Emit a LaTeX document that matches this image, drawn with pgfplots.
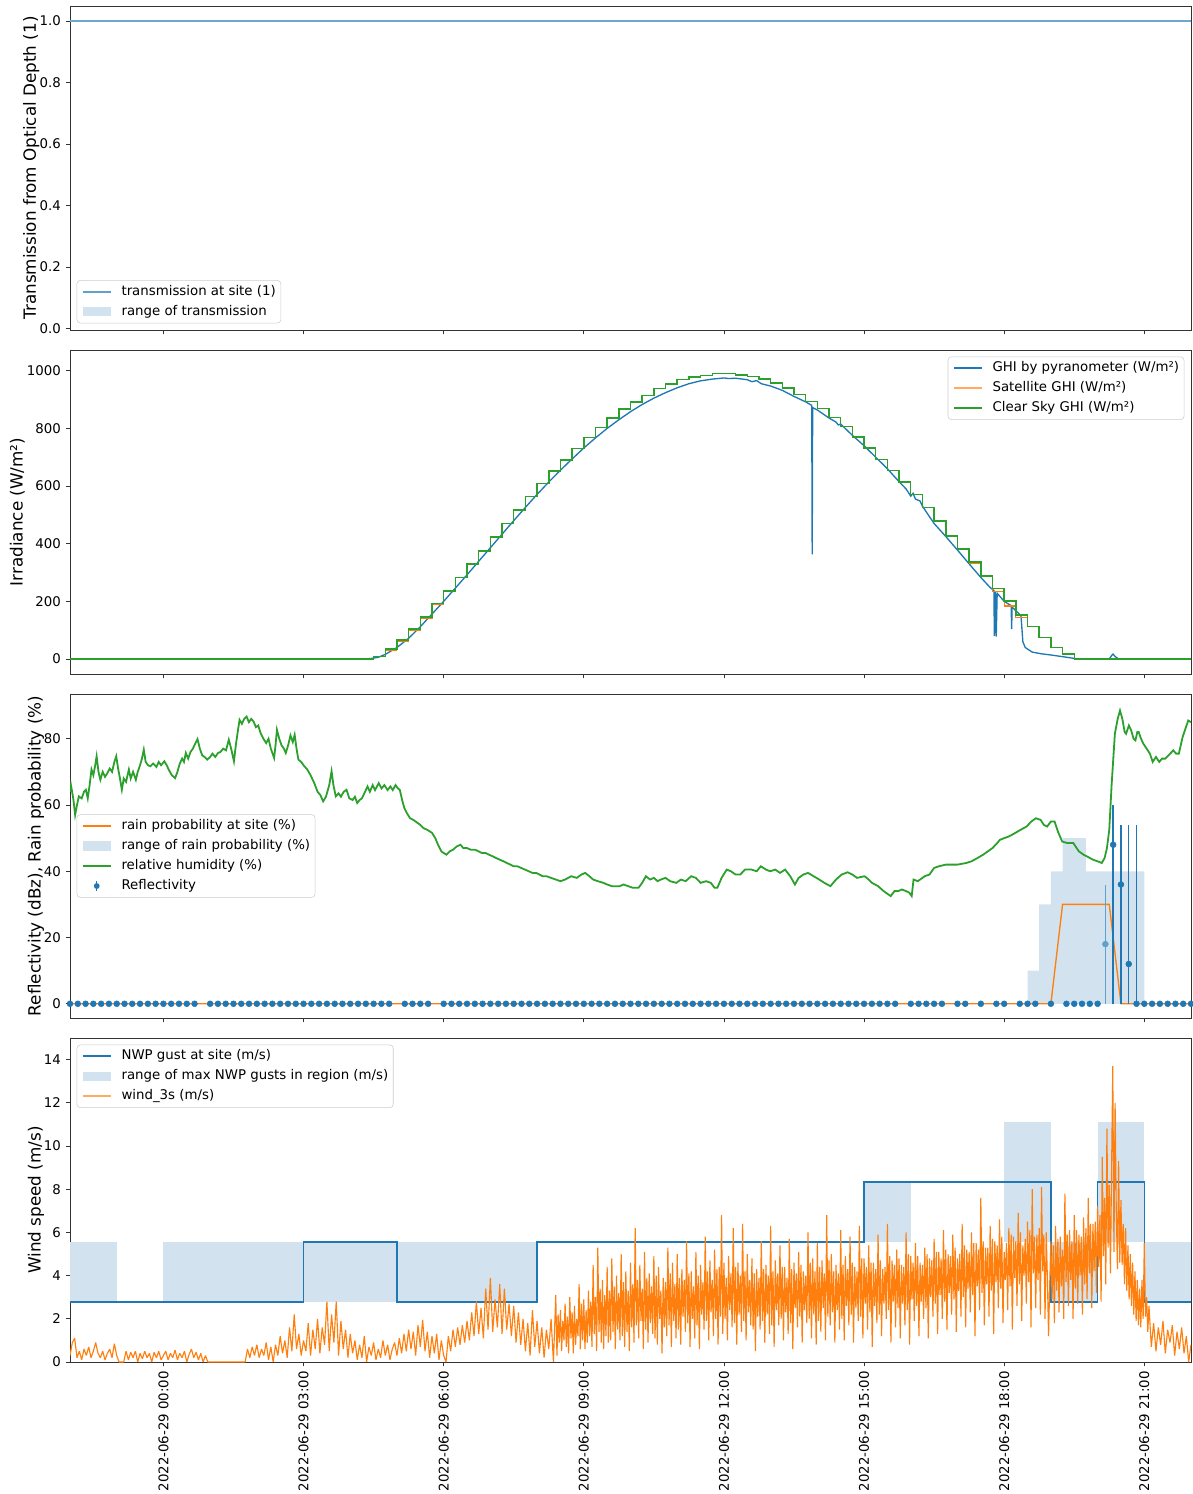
\documentclass[border=0pt]{standalone}
\usepackage{fontspec}
\setmainfont{DejaVu Sans}
\usepackage{pgfplots}
\pgfplotsset{compat=1.18}

\definecolor{tabblue}{HTML}{1F77B4}
\definecolor{taborange}{HTML}{FF7F0E}
\definecolor{tabgreen}{HTML}{2CA02C}
\definecolor{rangeblue}{HTML}{D2E3EF}

\pgfplotsset{
  lleg/.style={legend image code/.code={\draw[##1,line width=1.2pt,sharp corners,opacity=1] (0pt,0pt) -- (21pt,0pt);}},
  fleg/.style={legend image code/.code={\fill[##1,draw=none,sharp corners,opacity=1] (0pt,-3.4pt) rectangle (21pt,3.4pt);}},
  eleg/.style={legend image code/.code={\draw[##1,line width=1.1pt,opacity=1] (10.5pt,-4pt) -- (10.5pt,4pt); \fill[##1,draw=none,opacity=1] (10.5pt,0pt) circle (2.2pt);}},
  panel/.style={
    scale only axis, width=840.75pt, height=243pt,
    xmin=-2, xmax=22,
    xtick={0,3,6,9,12,15,18,21},
    xtick pos=left, ytick pos=left,
    tick align=outside,
    major tick length=3.3pt,
    axis line style={black!80, line width=0.6pt},
    every tick/.style={black!80, line width=0.6pt},
    tick label style={font=\fontsize{10}{12}\selectfont},
    label style={font=\fontsize{12.6}{15}\selectfont},
    /pgf/number format/assume math mode=true,
    /pgf/number format/1000 sep={},
    ylabel style={anchor=center},
    legend cell align=left,
    legend style={font=\fontsize{10}{12}\selectfont, draw=black!20, fill=white, fill opacity=0.8, text opacity=1, draw opacity=1,
      rounded corners=2.5pt, inner xsep=3.75pt, inner ysep=3.5pt, row sep=5pt, column sep=7.5pt,
      nodes={inner sep=0pt, text height=7.6pt, text depth=2.4pt}},
  }
}

\begin{document}
\begin{tikzpicture}
\path[use as bounding box] (0pt,0pt) rectangle (894pt,-1120.5pt);

%% ---------------- Panel 1 ----------------
\begin{axis}[panel, at={(52.5pt,-4.5pt)}, anchor=north west,
  ymin=-0.005, ymax=1.049, ytick={0,0.2,0.4,0.6,0.8,1.0},
  yticklabel style={/pgf/number format/.cd, fixed, fixed zerofill, precision=1},
  xticklabels={},
  ylabel={Transmission from Optical Depth (1)},
  ylabel style={at={(axis description cs:-0.0345,0.5)}},
  legend style={at={(axis description cs:0,0)}, anchor=south west, xshift=5pt, yshift=5pt}]
\addplot[forget plot, tabblue!65!white, line width=0.9pt] coordinates {(-2,1) (22,1)};
\addlegendimage{lleg, color=tabblue!70!white}
\addlegendentry{transmission at site (1)}
\addlegendimage{fleg, fill=rangeblue}
\addlegendentry{range of transmission}
\end{axis}

%% ---------------- Panel 2 ----------------
\begin{axis}[panel, at={(52.5pt,-262.5pt)}, anchor=north west,
  ymin=-52, ymax=1072, ytick={0,200,400,600,800,1000},
  xticklabels={},
  ylabel={Irradiance (W/m²)},
  ylabel style={at={(axis description cs:-0.047,0.5)}},
  legend style={at={(axis description cs:1,1)}, anchor=north east, xshift=-5pt, yshift=-5pt}]
% pyranometer
\addplot[forget plot, tabblue, line width=1pt] coordinates {
(-2,0)(4.3,0)(4.45,2)(4.6,6)(4.75,16)(5,40)(5.25,72)(5.5,112)(5.75,156)(6,200)(6.25,246)(6.5,292)(6.75,339)(7,386)(7.25,433)(7.5,480)(7.75,526)(8,571)(8.25,614)(8.5,655)(8.75,694)(9,732)(9.25,767)(9.5,800)(9.75,830)(10,858)(10.25,883)(10.5,905)(10.75,924)(11,941)(11.25,955)(11.5,965)(11.75,971)(12,975)(12.1,973)(12.25,974)(12.5,969)(12.6,962)(12.7,966)(12.8,955)(13,947)(13.25,932)(13.5,911)(13.75,892)(13.88,880)(13.89,363)(13.9,872)(14,864)(14.25,836)(14.4,822)(14.45,812)(14.5,815)(14.75,776)(15,740)(15.25,700)(15.5,660)(15.75,615)(15.9,590)(16.0,565)(16.05,575)(16.1,555)(16.2,548)(16.25,530)(16.5,470)(16.75,425)(17,378)(17.25,330)(17.5,283)(17.7,248)(17.78,238)(17.79,80)(17.81,232)(17.83,78)(17.85,228)(18.0,200)(18.15,185)(18.16,104)(18.17,180)(18.3,160)(18.36,150)(18.4,60)(18.45,40)(18.6,24)(18.8,18)(19.0,14)(19.3,7)(19.5,2)(19.6,0)(20.25,0)(20.3,12)(20.33,17)(20.38,8)(20.45,0)(22,0)};
% satellite
\addplot[forget plot, taborange, line width=0.8pt, const plot mark left] coordinates {
(-2,0)(4.5,8)(4.75,30)(5,60)(5.25,98)(5.5,140)(5.75,188)(6,236)(6.25,283)(6.5,329)(6.75,375)(7,423)(7.25,471)(7.5,517)(7.75,563)(8,609)(8.25,652)(8.5,691)(8.75,730)(9,769)(9.25,804)(9.5,836)(9.75,867)(10,892)(10.25,915)(10.5,938)(10.75,954)(11,970)(11.25,978)(11.5,984)(11.75,990)(12,990)(12.25,986)(12.5,980)(12.75,972)(13,957)(13.25,940)(13.5,917)(13.75,894)(14,869)(14.25,838)(14.5,806)(14.75,771)(15,732)(15.25,693)(15.5,654)(15.75,614)(16,571)(16.25,525)(16.5,479)(16.75,427)(17,381)(17.25,333)(17.5,286)(17.75,234)(18,184)(18.25,144)(18.5,113)(18.75,75)(19,40)(19.25,17)(19.5,0)(22,0)};
% clear sky
\addplot[forget plot, tabgreen, line width=1.1pt, const plot mark left] coordinates {
(-2,0)(4.5,8)(4.75,35)(5,66)(5.25,104)(5.5,146)(5.75,193)(6,236)(6.25,283)(6.5,329)(6.75,375)(7,423)(7.25,471)(7.5,517)(7.75,563)(8,609)(8.25,652)(8.5,691)(8.75,730)(9,769)(9.25,804)(9.5,836)(9.75,867)(10,892)(10.25,915)(10.5,938)(10.75,954)(11,970)(11.25,978)(11.5,984)(11.75,990)(12,990)(12.25,986)(12.5,980)(12.75,972)(13,957)(13.25,940)(13.5,917)(13.75,894)(14,869)(14.25,838)(14.5,806)(14.75,771)(15,732)(15.25,693)(15.5,654)(15.75,614)(16,571)(16.25,525)(16.5,479)(16.75,427)(17,381)(17.25,337)(17.5,288)(17.75,245)(18,202)(18.25,152)(18.5,113)(18.75,75)(19,40)(19.25,17)(19.5,0)(22,0)};
\addlegendimage{lleg, color=tabblue}
\addlegendentry{GHI by pyranometer (W/m²)}
\addlegendimage{lleg, color=taborange!65!white}
\addlegendentry{Satellite GHI (W/m²)}
\addlegendimage{lleg, color=tabgreen}
\addlegendentry{Clear Sky GHI (W/m²)}
\end{axis}

%% ---------------- Panel 3 ----------------
\begin{axis}[panel, at={(52.5pt,-520.5pt)}, anchor=north west,
  ymin=-4.3, ymax=93.5, ytick={0,20,40,60,80},
  xticklabels={},
  ylabel={Reflectivity (dBz), Rain probability (\%)},
  ylabel style={at={(axis description cs:-0.0303,0.5)}},
  legend style={at={(axis description cs:0,0.5)}, anchor=west, xshift=5pt}]
% range of rain probability
\addplot[forget plot, fill=rangeblue, draw=none] coordinates {
(18.5,0)(18.5,10)(18.75,10)(18.75,30)(19,30)(19,40)(19.25,40)(19.25,50)(19.75,50)(19.75,40)(21,40)(21,0)};
% rain probability at site
\addplot[forget plot, taborange, line width=1pt] coordinates {
(-2,0)(19,0)(19.25,30)(20.25,30)(20.5,0)(22,0)};
% relative humidity
\addplot[forget plot, tabgreen, line width=1.35pt] coordinates {
(-2.0,64)(-1.98,66)(-1.93,62)(-1.89,57)(-1.85,60)(-1.81,62.6)(-1.75,62)(-1.7,64)(-1.66,64.6)(-1.62,62)(-1.58,66)(-1.54,70.7)(-1.5,69)(-1.46,72)(-1.43,74.7)(-1.39,70)(-1.35,67.6)(-1.3,70)(-1.25,68.5)(-1.2,69.6)(-1.15,71)(-1.1,70)(-1.05,73)(-1.01,74.7)(-0.97,71)(-0.93,68)(-0.89,64.6)(-0.85,68)(-0.8,67)(-0.74,70.7)(-0.7,68)(-0.65,70)(-0.59,67.6)(-0.55,70)(-0.5,72)(-0.46,74)(-0.42,76.7)(-0.38,73)(-0.33,72)(-0.28,71.7)(-0.22,72.5)(-0.15,71.5)(-0.1,73)(-0.05,72)(0.02,73.2)(0.07,72)(0.12,70.5)(0.18,69)(0.25,68.1)(0.3,70)(0.35,72.5)(0.4,74)(0.44,73)(0.48,75.7)(0.53,74)(0.58,76)(0.63,77)(0.68,78.5)(0.73,79.9)(0.78,77)(0.83,75)(0.88,74.5)(0.94,73.7)(1.0,74.5)(1.05,75.5)(1.11,74.5)(1.17,75.7)(1.22,76)(1.28,77)(1.34,76.5)(1.4,79.7)(1.45,77)(1.51,73.2)(1.55,78)(1.59,82)(1.63,85.7)(1.68,84.5)(1.73,86)(1.78,86.7)(1.83,85)(1.88,86)(1.93,85.2)(1.98,83.5)(2.03,84)(2.08,81.7)(2.14,80)(2.2,78.7)(2.25,80)(2.3,77)(2.37,74.2)(2.4,78)(2.43,82.7)(2.48,80)(2.53,78)(2.58,77)(2.62,75.7)(2.67,78)(2.72,81)(2.77,79)(2.81,81.2)(2.85,77)(2.89,73.7)(2.95,73)(3.0,72)(3.08,70.7)(3.15,69)(3.23,66.6)(3.3,64)(3.36,63)(3.42,61.1)(3.48,62.5)(3.55,66)(3.6,70.2)(3.64,66)(3.69,62.6)(3.75,63.5)(3.8,62.5)(3.86,64)(3.92,64.6)(3.98,62)(4.05,61.5)(4.1,62.5)(4.15,60.6)(4.2,61.5)(4.25,62)(4.3,63.5)(4.37,65.6)(4.42,64)(4.48,66)(4.53,64.5)(4.61,66.6)(4.67,65)(4.73,66)(4.8,64.5)(4.86,65.6)(4.91,64.5)(4.97,66)(5.02,65)(5.06,64.6)(5.12,61)(5.16,59)(5.21,57.6)(5.28,56)(5.35,55.5)(5.44,54.6)(5.5,54)(5.57,53)(5.65,52.5)(5.75,51.6)(5.82,50)(5.88,48)(5.95,46)(6.0,45.5)(6.06,45)(6.13,46)(6.2,46.5)(6.28,47.5)(6.36,48)(6.42,47)(6.5,47)(6.58,46.5)(6.67,46.5)(6.75,46)(6.82,45.5)(6.9,45.5)(6.97,45)(7.05,44.5)(7.12,44)(7.2,43.5)(7.28,43)(7.35,42.5)(7.43,42)(7.5,41.5)(7.58,41.5)(7.66,41)(7.74,40.5)(7.82,40)(7.9,39.5)(7.98,39.5)(8.05,39)(8.12,38.5)(8.2,38.5)(8.3,38)(8.4,37.5)(8.5,37)(8.6,37.5)(8.73,38.5)(8.85,38)(8.95,39)(9.03,39.5)(9.12,38.5)(9.2,37.5)(9.3,37)(9.42,36.5)(9.5,36)(9.6,35.5)(9.72,35.5)(9.77,35.5)(9.85,36)(9.95,35.5)(10.05,35)(10.17,35)(10.25,36.5)(10.33,38.5)(10.42,37.5)(10.5,38)(10.58,37)(10.65,37.5)(10.75,38)(10.85,37)(10.98,36.5)(11.08,37.5)(11.18,37)(11.3,38.5)(11.4,38)(11.5,36.5)(11.62,37)(11.72,36.5)(11.8,35)(11.86,35)(11.95,38)(12.06,40.5)(12.15,40)(12.25,39)(12.35,39)(12.45,40.5)(12.59,40.5)(12.7,40)(12.79,41.5)(12.9,40.5)(12.99,40)(13.1,40.5)(13.2,39.5)(13.31,40.5)(13.42,38.5)(13.52,36)(13.6,38)(13.7,39)(13.8,39.5)(13.92,38.5)(14.04,37.5)(14.15,36.5)(14.28,35.5)(14.4,37.5)(14.52,39)(14.65,39.7)(14.75,39)(14.85,38)(15.01,38.5)(15.1,37.5)(15.17,36.5)(15.3,35.5)(15.42,34)(15.57,32.5)(15.65,34)(15.73,34)(15.81,34.5)(15.9,34)(15.97,33.5)(16.02,32.5)(16.06,37.5)(16.15,37)(16.3,38.5)(16.4,39)(16.5,41)(16.6,41.5)(16.75,42)(16.86,42)(17.0,42)(17.19,42.5)(17.3,43)(17.43,44)(17.55,45)(17.65,46)(17.75,47)(17.85,48.5)(17.91,49.5)(18.0,50)(18.1,50.5)(18.23,51.5)(18.35,52.5)(18.48,53.5)(18.58,55)(18.68,56)(18.78,55.5)(18.85,54)(18.92,53.5)(19.0,55)(19.08,55)(19.15,52)(19.24,49)(19.35,48.5)(19.48,48.5)(19.6,46)(19.7,45)(19.77,44.5)(19.9,43.5)(20.0,43)(20.09,42.5)(20.15,44)(20.2,47)(20.25,52.5)(20.3,66)(20.37,81.5)(20.43,86)(20.48,88.5)(20.53,86)(20.58,82)(20.61,81.5)(20.67,84)(20.72,82.5)(20.77,80)(20.81,79.5)(20.85,82)(20.88,82)(20.93,80)(20.98,78.5)(21.05,77)(21.12,75.5)(21.18,73)(21.25,74.5)(21.32,73)(21.38,74)(21.45,74)(21.52,75)(21.62,76.5)(21.68,75.5)(21.74,75.5)(21.78,78)(21.82,80.5)(21.88,83)(21.94,85.5)(22.0,85)};
% reflectivity (zero values)
\addplot[forget plot, only marks, mark=*, mark size=2.2pt, tabblue] coordinates {
(-2,0)(-1.833,0)(-1.667,0)(-1.5,0)(-1.333,0)(-1.167,0)(-1,0)(-0.833,0)(-0.667,0)(-0.5,0)(-0.333,0)(-0.167,0)
(0,0)(0.167,0)(0.333,0)(0.5,0)(0.667,0)
(1,0)(1.167,0)(1.333,0)(1.5,0)(1.667,0)(1.833,0)(2,0)(2.167,0)(2.333,0)(2.5,0)(2.667,0)(2.833,0)(3,0)(3.167,0)(3.333,0)(3.5,0)(3.667,0)(3.833,0)(4,0)(4.167,0)(4.333,0)(4.5,0)(4.667,0)(4.833,0)
(5.167,0)(5.333,0)(5.5,0)(5.667,0)
(6,0)(6.167,0)(6.333,0)(6.5,0)(6.667,0)(6.833,0)(7,0)(7.167,0)(7.333,0)(7.5,0)(7.667,0)(7.833,0)(8,0)(8.167,0)(8.333,0)(8.5,0)(8.667,0)(8.833,0)(9,0)(9.167,0)(9.333,0)(9.5,0)(9.667,0)(9.833,0)(10,0)(10.167,0)(10.333,0)(10.5,0)(10.667,0)(10.833,0)(11,0)(11.167,0)(11.333,0)(11.5,0)(11.667,0)(11.833,0)(12,0)(12.167,0)(12.333,0)(12.5,0)(12.667,0)(12.833,0)(13,0)(13.167,0)(13.333,0)(13.5,0)(13.667,0)(13.833,0)(14,0)(14.167,0)(14.333,0)(14.5,0)(14.667,0)(14.833,0)(15,0)(15.167,0)(15.333,0)(15.5,0)(15.667,0)
(16,0)(16.167,0)(16.333,0)(16.5,0)(16.667,0)
(17,0)(17.167,0)(17.5,0)(17.833,0)(18,0)
(18.333,0)(18.5,0)(18.667,0)(19,0)
(19.333,0)(19.5,0)(19.667,0)(19.833,0)(20,0)
(21,0)(21.167,0)(21.333,0)(21.5,0)(21.667,0)(21.833,0)(22,0)};
% reflectivity with error bars
\addplot[forget plot, only marks, mark=*, mark size=2.2pt, tabblue!70!white,
  error bars/.cd, y dir=both, y explicit, error mark=none,
  error bar style={line width=1.1pt, tabblue!70!white}] coordinates {
(20.167,18) += (0,18) -= (0,18)};
\addplot[forget plot, only marks, mark=*, mark size=2.2pt, tabblue,
  error bars/.cd, y dir=both, y explicit, error mark=none,
  error bar style={line width=1.1pt, tabblue}] coordinates {
(20.333,48) += (0,12) -= (0,48)
(20.5,36) += (0,18) -= (0,36)
(20.667,12) += (0,42) -= (0,12)
(20.833,0) += (0,54) -= (0,0)};
\addlegendimage{lleg, color=taborange}
\addlegendentry{rain probability at site (\%)}
\addlegendimage{fleg, fill=rangeblue}
\addlegendentry{range of rain probability (\%)}
\addlegendimage{lleg, color=tabgreen}
\addlegendentry{relative humidity (\%)}
\addlegendimage{eleg, color=tabblue}
\addlegendentry{Reflectivity}
\end{axis}

%% ---------------- Panel 4 ----------------
\begin{axis}[panel, at={(52.5pt,-778.5pt)}, anchor=north west,
  ymin=0, ymax=15, ytick={0,2,4,6,8,10,12,14},
  xticklabels={2022-06-29 00:00,2022-06-29 03:00,2022-06-29 06:00,2022-06-29 09:00,2022-06-29 12:00,2022-06-29 15:00,2022-06-29 18:00,2022-06-29 21:00},
  xticklabel style={rotate=90, anchor=east},
  ylabel={Wind speed (m/s)},
  ylabel style={at={(axis description cs:-0.0303,0.5)}},
  legend style={at={(axis description cs:0,1)}, anchor=north west, xshift=5pt, yshift=-5pt}]
% range of max gusts
\addplot[forget plot, fill=rangeblue, draw=none] coordinates {(-2,2.778)(-1,2.778)(-1,5.556)(-2,5.556)};
\addplot[forget plot, fill=rangeblue, draw=none] coordinates {(0,2.778)(8,2.778)(8,5.556)(0,5.556)};
\addplot[forget plot, fill=rangeblue, draw=none] coordinates {(15,5.556)(16,5.556)(16,8.333)(15,8.333)};
\addplot[forget plot, fill=rangeblue, draw=none] coordinates {(18,5.556)(19,5.556)(19,11.111)(18,11.111)};
\addplot[forget plot, fill=rangeblue, draw=none] coordinates {(19,2.778)(20,2.778)(20,5.556)(19,5.556)};
\addplot[forget plot, fill=rangeblue, draw=none] coordinates {(20,5.556)(21,5.556)(21,11.111)(20,11.111)};
\addplot[forget plot, fill=rangeblue, draw=none] coordinates {(21,2.778)(22,2.778)(22,5.556)(21,5.556)};
% NWP gust at site
\addplot[forget plot, tabblue, line width=1.1pt, const plot mark left] coordinates {
(-2,2.778)(3,5.556)(5,2.778)(8,5.556)(15,8.333)(19,2.778)(20,8.333)(21,2.778)(22,2.778)};
% wind_3s
\addplot[forget plot, taborange, line width=0.85pt, line join=bevel] coordinates {
(-2.00,0.3)(-1.95,0.9)(-1.90,1.1)(-1.85,0.2)(-1.80,0.5)(-1.75,0.1)(-1.70,0.6)(-1.65,0.3)(-1.60,0.7)(-1.55,0.2)(-1.50,0.5)(-1.45,0.9)(-1.40,0.4)(-1.35,0.2)(-1.30,0.5)(-1.25,0.1)(-1.20,0.4)(-1.15,0.6)(-1.10,0.2)(-1.05,0.85)(-1.00,0.3)
(-0.95,0.0)(-0.90,0.0)(-0.85,0.0)(-0.80,0.5)(-0.75,0.1)(-0.70,0.45)(-0.65,0.2)(-0.60,0.5)(-0.55,0.0)(-0.50,0.4)(-0.45,0.15)(-0.40,0.5)(-0.35,0.2)(-0.30,0.4)(-0.25,0.0)(-0.20,0.45)(-0.15,0.2)(-0.10,0.5)(-0.05,0.1)(0.00,0.3)(0.05,0.5)(0.10,0.1)(0.15,0.4)(0.20,0.2)(0.25,0.55)(0.30,0.1)(0.35,0.4)(0.40,0.2)(0.45,0.5)(0.50,0.0)(0.55,0.35)(0.60,0.6)(0.65,0.2)(0.70,0.45)(0.75,0.1)(0.80,0.4)(0.85,0.0)(0.90,0.3)(0.95,0.0)
(1.00,0.0)(1.75,0.0)
(1.80,0.6)(1.85,0.2)(1.90,0.7)(1.95,0.3)(2.00,0.8)(2.05,0.2)(2.10,0.6)(2.15,0.3)(2.20,0.9)(2.25,0.1)(2.30,0.7)(2.35,0.0)(2.40,0.8)(2.45,0.3)(2.50,1.2)(2.55,0.4)(2.60,1.0)(2.65,0.2)(2.70,1.6)(2.75,0.5)(2.80,2.2)(2.85,0.6)(2.90,1.3)(2.95,0.3)(3.00,1.0)
(3.05,0.5)(3.10,1.8)(3.15,0.3)(3.20,1.5)(3.25,0.6)(3.30,2.0)(3.35,0.4)(3.40,1.6)(3.45,0.8)(3.50,2.8)(3.55,0.5)(3.60,2.2)(3.65,0.9)(3.70,2.8)(3.75,0.3)(3.80,1.9)(3.85,0.6)(3.90,1.5)(3.95,0.2)(4.00,1.3)
(4.05,0.4)(4.10,1.0)(4.15,0.1)(4.20,0.8)(4.25,0.2)(4.30,1.2)(4.35,0.0)(4.40,0.7)(4.45,0.3)(4.50,0.9)(4.55,0.1)(4.60,0.6)(4.65,0.2)(4.70,1.0)(4.75,0.3)(4.80,0.8)(4.85,0.1)(4.90,0.6)
(4.95,0.9)(5.00,0.3)(5.05,1.1)(5.10,0.4)(5.15,1.3)(5.20,0.5)(5.25,1.5)(5.30,0.6)(5.35,1.4)(5.40,0.3)(5.45,1.7)(5.50,0.7)(5.55,1.95)(5.60,0.5)(5.65,1.4)(5.70,0.2)(5.75,1.2)(5.80,0.4)(5.85,1.3)(5.90,0.1)(5.95,1.0)(6.00,0.3)
(6.05,0.0)(6.10,1.2)(6.15,0.5)(6.20,1.5)(6.25,0.7)(6.30,1.6)(6.35,0.8)(6.40,1.7)(6.45,0.9)(6.50,1.9)
(6.55,1.0)(6.60,2.3)(6.65,1.2)(6.70,2.8)(6.75,1.3)(6.80,2.5)(6.85,1.1)(6.90,3.4)(6.95,1.5)(7.00,3.9)(7.05,1.4)(7.10,2.9)(7.15,1.6)(7.20,3.6)(7.25,1.3)(7.30,3.4)(7.35,1.5)(7.40,2.7)(7.45,1.2)(7.50,2.6)(7.55,0.9)(7.60,2.3)
(7.65,0.8)(7.70,2.0)(7.75,0.5)(7.80,1.8)(7.85,0.3)(7.90,2.4)(7.95,0.7)(8.00,1.9)(8.05,0.4)(8.10,1.6)(8.15,0.2)(8.20,1.5)(8.25,0.6)(8.30,2.0)(8.35,0.0)
(8.400,3.1)(8.425,0.3)(8.450,2.2)(8.475,0.9)(8.500,2.4)(8.525,0.5)(8.550,1.9)(8.575,1.0)(8.600,2.7)(8.625,0.7)(8.650,2.1)(8.675,0.4)(8.700,3.0)(8.725,1.1)(8.750,2.3)(8.775,0.4)(8.800,2.6)(8.825,0.8)(8.850,2.0)(8.875,1.2)
(8.900,3.6)(8.925,0.6)(8.950,2.7)(8.975,1.0)(9.000,2.9)(9.025,0.6)(9.050,2.4)(9.075,0.9)(9.100,3.3)(9.125,1.2)(9.150,2.8)(9.175,0.7)(9.200,4.5)(9.225,1.3)(9.250,3.0)(9.275,0.5)(9.300,5.3)(9.325,1.4)(9.350,3.4)(9.375,0.9)
(9.400,3.8)(9.425,0.6)(9.450,3.1)(9.475,1.2)(9.500,4.4)(9.525,0.9)(9.550,3.3)(9.575,1.0)(9.600,4.8)(9.625,1.4)(9.650,3.5)(9.675,0.6)(9.700,4.0)(9.725,1.5)(9.750,3.2)(9.775,1.0)(9.800,5.0)(9.825,1.2)(9.850,3.7)(9.875,0.7)
(9.900,4.2)(9.925,1.4)(9.950,3.3)(9.975,0.5)(10.000,4.6)(10.025,1.6)(10.050,3.6)(10.075,0.9)(10.100,6.2)(10.125,1.7)(10.150,3.8)(10.175,1.1)(10.200,4.5)(10.225,1.9)(10.250,3.4)(10.275,0.6)(10.300,5.1)(10.325,1.5)(10.350,3.9)(10.375,0.9)
(10.400,4.1)(10.425,1.8)(10.450,3.5)(10.475,1.3)(10.500,4.9)(10.525,1.1)(10.550,4.0)(10.575,0.8)(10.600,4.4)(10.625,2.0)(10.650,3.3)(10.675,0.4)(10.700,3.9)(10.725,1.6)(10.750,3.7)(10.775,1.2)(10.800,5.3)(10.825,1.7)(10.850,4.1)(10.875,0.7)
(10.900,4.6)(10.925,1.9)(10.950,3.6)(10.975,1.1)(11.000,5.0)(11.025,1.5)(11.050,3.9)(11.075,0.8)(11.100,4.3)(11.125,2.1)(11.150,3.8)(11.175,1.4)(11.200,5.6)(11.225,1.8)(11.250,4.1)(11.275,0.7)(11.300,4.2)(11.325,2.0)(11.350,3.5)(11.375,1.1)
(11.400,5.1)(11.425,1.7)(11.450,4.0)(11.475,0.6)(11.500,4.5)(11.525,2.2)(11.550,3.7)(11.575,1.5)(11.600,5.8)(11.625,1.9)(11.650,4.2)(11.675,1.0)(11.700,4.7)(11.725,2.3)(11.750,3.8)(11.775,1.2)(11.800,5.2)(11.825,2.0)(11.850,4.3)(11.875,0.8)
(11.900,4.4)(11.925,2.1)(11.950,6.8)(11.975,1.3)(12.000,4.6)(12.025,2.0)(12.050,3.9)(12.075,1.0)(12.100,4.9)(12.125,2.4)(12.150,4.1)(12.175,1.6)(12.200,6.2)(12.225,1.8)(12.250,4.4)(12.275,0.8)(12.300,4.6)(12.325,2.2)(12.350,4.0)(12.375,1.4)
(12.400,6.4)(12.425,1.9)(12.450,4.2)(12.475,1.0)(12.500,5.0)(12.525,2.3)(12.550,3.8)(12.575,1.7)(12.600,4.8)(12.625,1.5)(12.650,4.1)(12.675,0.5)(12.700,4.3)(12.725,2.1)(12.750,3.9)(12.775,1.5)(12.800,5.6)(12.825,1.9)(12.850,4.3)(12.875,0.9)
(12.900,4.5)(12.925,2.2)(12.950,4.0)(12.975,1.3)(13.000,6.3)(13.025,1.7)(13.050,4.2)(13.075,0.7)(13.100,4.7)(13.125,2.4)(13.150,4.1)(13.175,1.7)(13.200,5.4)(13.225,2.0)(13.250,4.4)(13.275,1.0)(13.300,4.4)(13.325,2.3)(13.350,3.9)(13.375,1.3)
(13.400,5.7)(13.425,1.8)(13.450,4.3)(13.475,0.6)(13.500,4.6)(13.525,2.5)(13.550,4.1)(13.575,1.6)(13.600,5.1)(13.625,2.1)(13.650,4.5)(13.675,0.9)(13.700,4.2)(13.725,2.4)(13.750,4.0)(13.775,1.8)(13.800,6.0)(13.825,2.0)(13.850,4.6)(13.875,1.1)
(13.900,4.8)(13.925,2.2)(13.950,4.2)(13.975,0.8)(14.000,5.5)(14.025,1.9)(14.050,4.4)(14.075,1.4)(14.100,4.7)(14.125,2.5)(14.150,4.1)(14.175,1.0)(14.200,6.8)(14.225,2.1)(14.250,4.7)(14.275,1.7)(14.300,5.0)(14.325,2.3)(14.350,4.2)(14.375,0.9)
(14.400,4.5)(14.425,2.4)(14.450,4.1)(14.475,1.5)(14.500,6.1)(14.525,2.0)(14.550,4.5)(14.575,1.0)(14.600,4.9)(14.625,2.6)(14.650,4.3)(14.675,1.7)(14.700,5.8)(14.725,2.2)(14.750,4.6)(14.775,0.9)(14.800,4.4)(14.825,2.5)(14.850,4.2)(14.875,1.9)
(14.900,6.3)(14.925,2.1)(14.950,4.8)(14.975,1.1)(15.000,4.8)(15.025,2.7)(15.050,4.4)(15.075,1.5)(15.100,5.4)(15.125,2.3)(15.150,4.6)(15.175,0.7)(15.200,4.6)(15.225,2.6)(15.250,4.3)(15.275,1.8)(15.300,5.9)(15.325,2.2)(15.350,4.7)(15.375,1.2)
(15.400,4.3)(15.425,2.7)(15.450,4.4)(15.475,2.0)(15.500,6.4)(15.525,2.4)(15.550,4.9)(15.575,0.9)(15.600,4.7)(15.625,2.8)(15.650,4.5)(15.675,1.6)(15.700,5.2)(15.725,2.5)(15.750,4.8)(15.775,1.1)(15.800,4.5)(15.825,2.7)(15.850,4.4)(15.875,1.7)
(15.900,6.0)(15.925,2.4)(15.950,5.0)(15.975,0.8)(16.000,4.9)(16.025,2.9)(16.050,4.6)(16.075,1.9)(16.100,5.5)(16.125,2.6)(16.150,4.9)(16.175,1.2)(16.200,4.6)(16.225,2.8)(16.250,4.5)(16.275,2.0)(16.300,5.3)(16.325,2.5)(16.350,5.0)(16.375,1.1)
(16.400,4.8)(16.425,3.0)(16.450,4.7)(16.475,2.1)(16.500,5.7)(16.525,2.7)(16.550,5.1)(16.575,1.3)(16.600,5.1)(16.625,3.1)(16.650,4.8)(16.675,2.0)(16.700,6.1)(16.725,2.8)(16.750,5.2)(16.775,1.5)(16.800,5.0)(16.825,3.2)(16.850,4.9)(16.875,2.2)
(16.900,5.9)(16.925,2.9)(16.950,5.3)(16.975,1.4)(17.000,4.8)(17.025,3.3)(17.050,5.0)(17.075,2.1)(17.100,6.4)(17.125,3.0)(17.150,5.4)(17.175,1.6)(17.200,5.2)(17.225,3.4)(17.250,5.1)(17.275,2.3)(17.300,6.0)(17.325,3.1)(17.350,5.5)(17.375,1.2)
(17.400,5.5)(17.425,3.5)(17.450,5.2)(17.475,2.4)(17.500,7.6)(17.525,3.2)(17.550,5.6)(17.575,1.7)(17.600,5.3)(17.625,3.6)(17.650,5.3)(17.675,2.1)(17.700,6.3)(17.725,3.3)(17.750,5.7)(17.775,1.3)(17.800,5.6)(17.825,3.7)(17.850,5.4)(17.875,2.5)
(17.900,6.6)(17.925,3.4)(17.950,5.8)(17.975,1.8)(18.000,5.1)(18.025,3.8)(18.050,5.5)(18.075,2.4)(18.100,6.2)(18.125,3.5)(18.150,5.9)(18.175,1.5)(18.200,5.8)(18.225,3.9)(18.250,5.6)(18.275,2.6)(18.300,6.9)(18.325,3.6)(18.350,6.0)(18.375,1.9)
(18.400,5.4)(18.425,4.0)(18.450,5.7)(18.475,2.7)(18.500,6.5)(18.525,3.7)(18.550,6.1)(18.575,1.6)(18.600,8.0)(18.625,4.1)(18.650,5.8)(18.675,2.5)(18.700,5.9)(18.725,3.8)(18.750,6.2)(18.775,2.2)(18.800,8.1)(18.825,4.2)(18.850,5.9)(18.875,2.0)
(18.900,6.0)(18.925,3.9)(18.950,1.2)(18.975,3.6)(19.000,5.6)(19.025,2.9)(19.050,5.4)(19.075,1.8)(19.100,6.3)(19.125,3.3)(19.150,5.7)(19.175,2.3)(19.200,5.8)(19.225,3.5)(19.250,5.2)(19.275,2.0)(19.300,7.8)(19.325,3.7)(19.350,5.9)(19.375,2.6)
(19.400,6.1)(19.425,3.8)(19.450,5.6)(19.475,2.0)(19.500,6.8)(19.525,3.4)(19.550,6.1)(19.575,2.7)(19.600,5.9)(19.625,4.0)(19.650,5.8)(19.675,2.2)(19.700,6.7)(19.725,3.6)(19.750,6.2)(19.775,2.9)(19.800,7.6)(19.825,4.1)(19.850,6.4)(19.875,2.5)
(19.900,6.4)(19.925,4.2)(19.950,6.5)(19.975,3.2)(20.000,7.2)(20.025,4.4)(20.050,6.8)(20.075,2.8)(20.100,9.5)(20.125,4.9)(20.150,7.6)(20.175,3.6)(20.200,10.8)(20.225,5.3)(20.250,8.2)(20.275,4.1)(20.300,9.0)(20.325,13.7)(20.350,5.1)(20.375,12.0)(20.400,7.0)(20.425,4.3)(20.450,9.3)(20.475,4.6)
(20.500,7.5)(20.525,4.5)(20.550,6.4)(20.575,3.6)(20.600,6.2)(20.625,3.3)(20.650,5.4)(20.675,2.9)(20.700,5.0)(20.725,2.6)(20.750,4.6)(20.775,2.2)(20.800,4.2)(20.825,1.9)(20.850,3.8)(20.875,1.7)(20.900,3.4)(20.925,1.6)(20.950,3.8)(20.975,2.0)(21.000,5.5)(21.025,2.1)(21.050,3.0)(21.075,1.4)(21.100,2.6)
(21.15,0.7)(21.20,1.8)(21.25,0.5)(21.30,1.6)(21.35,0.8)(21.40,1.9)(21.45,0.4)(21.50,1.5)(21.55,0.9)(21.60,1.7)(21.65,0.3)(21.70,1.4)(21.75,0.6)(21.80,1.6)(21.85,0.4)(21.90,1.2)(21.95,0.0)(22.00,0.8)};
\addlegendimage{lleg, color=tabblue}
\addlegendentry{NWP gust at site (m/s)}
\addlegendimage{fleg, fill=rangeblue}
\addlegendentry{range of max NWP gusts in region (m/s)}
\addlegendimage{lleg, color=taborange!65!white}
\addlegendentry{wind\_3s (m/s)}
\end{axis}
\end{tikzpicture}
\end{document}
